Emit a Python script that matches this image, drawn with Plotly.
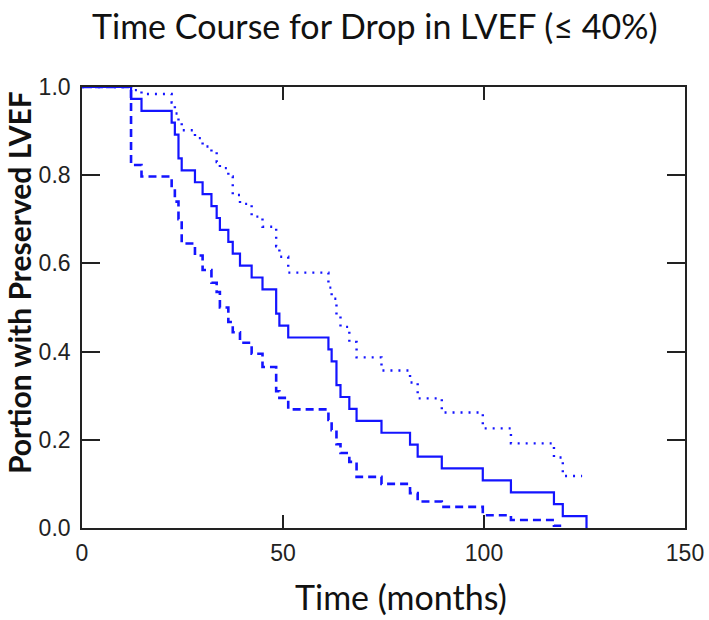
import plotly.graph_objects as go

# Event times (months)
times = [0, 12.2, 14.8, 22.3, 23.1, 24.0, 24.8, 28.1, 30.0, 32.2, 33.5, 34.3, 36.4, 37.5,
         39.3, 42.2, 44.9, 48.3, 49.1, 51.3, 61.3, 62.1, 63.3, 64.3, 66.5, 68.3, 74.5,
         81.6, 83.5, 89.5, 99.7, 106.7, 117.4, 119.6, 125.5]

# Kaplan-Meier estimate (solid)
survival = [1.0, 0.973, 0.946, 0.919, 0.892, 0.838, 0.811, 0.784, 0.757, 0.730, 0.703,
            0.676, 0.649, 0.622, 0.595, 0.568, 0.541, 0.486, 0.459, 0.432, 0.405, 0.378,
            0.324, 0.297, 0.270, 0.243, 0.216, 0.189, 0.162, 0.135, 0.108, 0.081, 0.054,
            0.027, 0.0]

# Upper confidence bound (dotted)
upper_times = [0, 12.2, 14.8, 22.3, 23.1, 24.0, 24.8, 28.1, 30.0, 32.2, 33.5, 34.3, 36.4,
               37.5, 39.3, 42.2, 44.9, 48.3, 49.1, 51.3, 61.3, 62.1, 63.3, 64.3, 66.5, 68.3,
               74.5, 81.6, 83.5, 89.5, 99.7, 106.7, 117.4, 119.6, 124.4]
upper = [1.0, 0.993, 0.984, 0.965, 0.940, 0.918, 0.902, 0.884, 0.865, 0.853, 0.830, 0.816,
         0.797, 0.755, 0.735, 0.706, 0.683, 0.639, 0.615, 0.579, 0.545, 0.520, 0.483, 0.456,
         0.422, 0.387, 0.357, 0.330, 0.294, 0.262, 0.226, 0.192, 0.160, 0.118, 0.118]

# Lower confidence bound (dashed)
lower_times = [0, 12.2, 14.8, 22.3, 23.1, 24.0, 24.8, 28.1, 30.0, 32.2, 33.5, 34.3, 36.4,
               37.5, 39.3, 42.2, 44.9, 48.3, 49.1, 51.3, 61.3, 62.1, 63.3, 64.3, 66.5, 68.3,
               74.5, 81.6, 83.5, 89.5, 99.7, 106.7, 117.4, 119.6]
lower = [1.0, 0.823, 0.797, 0.771, 0.740, 0.700, 0.645, 0.618, 0.585, 0.556, 0.535, 0.500,
         0.467, 0.444, 0.420, 0.395, 0.365, 0.310, 0.295, 0.269, 0.245, 0.222, 0.190, 0.170,
         0.150, 0.116, 0.100, 0.079, 0.060, 0.048, 0.029, 0.018, 0.005, 0.0]

x_ticks = [0, 50, 100, 150]
y_ticks = [0.0, 0.2, 0.4, 0.6, 0.8, 1.0]
y_tick_labels = ["0.0", "0.2", "0.4", "0.6", "0.8", "1.0"]

BLUE = "#1414ff"

fig = go.Figure()
fig.add_trace(go.Scatter(x=lower_times, y=lower, mode="lines", line_shape="hv",
                         line=dict(color=BLUE, width=2.6, dash="8px,5px"), showlegend=False))
fig.add_trace(go.Scatter(x=upper_times, y=upper, mode="lines", line_shape="hv",
                         line=dict(color=BLUE, width=2.4, dash="2px,6px"), showlegend=False))
fig.add_trace(go.Scatter(x=times, y=survival, mode="lines", line_shape="hv",
                         line=dict(color=BLUE, width=2.2), showlegend=False))

axis_font = dict(family="Liberation Sans, Arial, sans-serif", size=23, color="#222")

fig.update_layout(
    width=709, height=620,
    margin=dict(l=82, r=24, t=87, b=92),
    paper_bgcolor="white", plot_bgcolor="white",
    xaxis=dict(range=[0, 150], tickvals=x_ticks, ticktext=[str(v) for v in x_ticks],
               ticks="inside", ticklen=13, tickwidth=1.6, tickcolor="#222",
               showline=True, linecolor="#222", linewidth=1.6, mirror="ticks",
               showgrid=False, zeroline=False, tickfont=axis_font, layer="below traces",
               automargin=False, ticklabelstandoff=4),
    yaxis=dict(range=[0, 1.0], tickvals=y_ticks, ticktext=y_tick_labels,
               ticks="inside", ticklen=18, tickwidth=1.6, tickcolor="#222",
               showline=True, linecolor="#222", linewidth=1.6, mirror="ticks",
               showgrid=False, zeroline=False, tickfont=axis_font, layer="below traces",
               automargin=False, ticklabelstandoff=5),
    annotations=[
        dict(text="Time Course for Drop in LVEF (≤ 40%)", xref="paper", yref="paper",
             x=(375 - 82) / 603, y=1 + (87 - 25) / 441, xanchor="center", yanchor="middle",
             showarrow=False, font=dict(family="Lato, Open Sans, sans-serif", size=34, color="#111")),
        dict(text="Time (months)", xref="paper", yref="paper",
             x=(401 - 82) / 603, y=-(596 - 528) / 441, xanchor="center", yanchor="middle",
             showarrow=False, font=dict(family="Lato, Open Sans, sans-serif", size=34, color="#111")),
        dict(text="<b>Portion with Preserved LVEF</b>", xref="paper", yref="paper",
             x=-(82 - 19) / 603, y=(528 - 283) / 441, xanchor="center", yanchor="middle",
             textangle=-90, showarrow=False,
             font=dict(family="Lato, Open Sans, sans-serif", size=30, color="#111")),
    ],
)

fig.write_html("out.html", config={"displayModeBar": False},
               post_script="document.body.style.margin='0px';document.body.style.overflow='hidden';")
